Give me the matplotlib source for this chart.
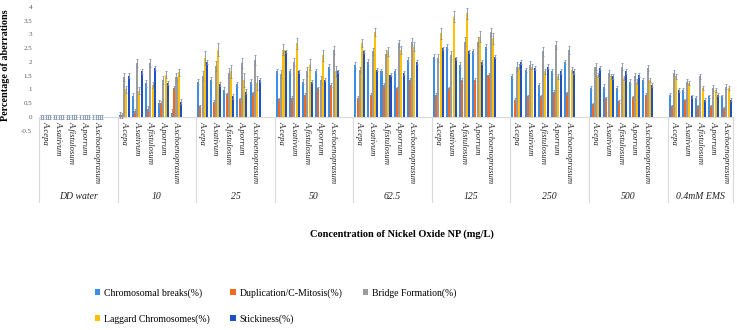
import matplotlib
matplotlib.use('Agg')
import matplotlib.pyplot as plt
import numpy as np

plt.rcParams['font.family'] = ['Liberation Serif', 'DejaVu Serif']

# 數據
groups = ['DD water', '10', '25', '50', '62.5', '125', '250', '500', '0.4mM EMS']
species = ['A.cepa', 'A.sativum', 'A.fistulosum', 'A.porrum', 'A.schoenoprasum']
aberrations = ['Chromosomal breaks(%)', 'Duplication/C-Mitosis(%)', 'Bridge Formation(%)',
               'Laggard Chromosomes(%)', 'Stickiness(%)']

breaks = [
    [0, 0, 0, 0, 0],
    [0.07, 0.74, 1.22, 0.5, 0.15],
    [1.28, 1.35, 0.98, 1.18, 1.28],
    [1.65, 1.65, 1.28, 1.65, 1.83],
    [1.89, 2.0, 1.65, 1.65, 2.07],
    [2.19, 2.56, 1.89, 2.38, 2.56],
    [1.47, 1.71, 1.16, 1.65, 2.0],
    [1.04, 1.1, 1.04, 1.28, 1.35],
    [0.8, 0.98, 0.68, 0.74, 0.74],
]
duplication = [
    [0, 0, 0, 0, 0],
    [0.05, 0.2, 0.3, 0.5, 1.04],
    [0.38, 0.55, 0.82, 0.64, 0.86],
    [0.64, 0.68, 0.8, 1.04, 1.16],
    [0.68, 0.8, 1.16, 1.04, 1.35],
    [0.8, 1.04, 1.35, 1.35, 1.53],
    [0.62, 0.74, 0.74, 0.92, 0.86],
    [0.47, 0.68, 0.56, 0.72, 0.8],
    [0.38, 0.62, 0.38, 0.38, 0.32],
]
bridge = [
    [0, 0, 0, 0, 0],
    [1.45, 1.95, 1.95, 1.35, 1.45],
    [1.5, 1.85, 1.6, 1.95, 2.07],
    [1.55, 2.0, 1.65, 1.35, 2.44],
    [1.7, 2.38, 2.3, 2.68, 2.74],
    [2.13, 2.25, 2.74, 2.74, 3.1],
    [1.83, 1.89, 2.38, 2.62, 2.44],
    [1.83, 1.59, 1.83, 1.47, 1.77],
    [1.59, 1.28, 1.47, 1.04, 1.1],
]
laggard = [
    [0, 0, 0, 0, 0],
    [1.0, 0.95, 1.16, 1.53, 1.62],
    [2.13, 2.45, 1.65, 1.35, 1.22],
    [2.44, 2.68, 1.89, 2.25, 1.65],
    [2.68, 3.1, 2.38, 2.44, 2.56],
    [3.04, 3.65, 3.77, 2.92, 2.86],
    [1.83, 1.83, 1.65, 1.47, 1.71],
    [1.53, 1.47, 1.41, 1.28, 1.35],
    [1.47, 1.22, 1.04, 0.98, 1.04],
]
stickiness = [
    [0, 0, 0, 0, 0],
    [1.5, 1.65, 1.77, 1.22, 0.55],
    [2.0, 1.2, 0.74, 0.92, 1.35],
    [2.38, 1.65, 1.28, 1.35, 1.65],
    [2.38, 1.71, 1.53, 1.59, 2.0],
    [2.5, 2.13, 2.38, 2.0, 2.19],
    [2.0, 1.77, 1.83, 1.65, 1.65],
    [1.77, 1.47, 1.65, 1.53, 1.16],
    [0.98, 0.74, 0.62, 0.8, 0.62],
]

# 誤差（每組每類型）
err_breaks = [0.08, 0.12, 0.1, 0.1, 0.1, 0.1, 0.08, 0.08, 0.06]
err_dup = [0.08, 0.08, 0.06, 0.06, 0.06, 0.06, 0.05, 0.05, 0.04]
err_bridge = [0.08, 0.15, 0.18, 0.15, 0.12, 0.15, 0.15, 0.12, 0.1]
err_laggard = [0.08, 0.12, 0.25, 0.2, 0.15, 0.2, 0.1, 0.08, 0.08]
err_sticky = [0.08, 0.08, 0.08, 0.06, 0.06, 0.06, 0.08, 0.08, 0.06]

yticks = [-0.5, 0, 0.5, 1, 1.5, 2, 2.5, 3, 3.5, 4]

series = [breaks, duplication, bridge, laggard, stickiness]
errors = [err_breaks, err_dup, err_bridge, err_laggard, err_sticky]
colors = ['#3a8ee6', '#f0691c', '#9c9c9c', '#ffc000', '#1f4fc4']

W, H = 737, 330
fig = plt.figure(figsize=(W / 100, H / 100), dpi=100, facecolor='white')
ax = fig.add_axes([39 / W, (H - 130.5) / H, (733 - 39) / W, 123.5 / H])

slots = 6  # 每組 5 個物種 + 1 個空位
n_sp = len(species)
bar_w = 0.155
step = 0.172

x_sp = []
for g in range(len(groups)):
    for s in range(n_sp):
        x_sp.append(g * slots + s)
x_sp = np.array(x_sp, dtype=float)

for k, (data, err, c) in enumerate(zip(series, errors, colors)):
    vals = np.array(data).ravel()
    e = np.repeat(err, n_sp)
    xs = x_sp + (k - 2) * step
    ax.bar(xs, vals, width=bar_w, color=c, label=aberrations[k], zorder=2)
    ax.errorbar(xs, vals, yerr=e, fmt='none', ecolor='#8093ad', elinewidth=0.6,
                capsize=1.0, capthick=0.6, zorder=3)

n_slots = len(groups) * slots - 1
ax.set_xlim(-0.5, n_slots - 0.5)
ax.set_ylim(-0.5, 4)
ax.set_yticks(yticks)
ax.set_yticklabels(['%g' % v for v in yticks])
ax.tick_params(axis='y', length=0, labelsize=5, colors='#595959', pad=5)
ax.set_xticks([])
for sp in ax.spines.values():
    sp.set_visible(False)

# 零線與分隔線
ax.axhline(0, color='#d9d9d9', linewidth=0.8, zorder=1)
bounds = [g * slots - 0.5 for g in range(len(groups))] + [n_slots - 0.5]
for b in bounds:
    ax.plot([b, b], [0, -3.1], color='#d9d9d9', linewidth=0.8, clip_on=False)

# 物種標籤
for i, x in enumerate(x_sp):
    ax.text(x, -0.17, species[i % n_sp], rotation=-90, ha='center', va='top',
            fontsize=6.2, fontstyle='italic', color='#222222', clip_on=False)

# 組別標籤
for g, name in enumerate(groups):
    cx = (bounds[g] + bounds[g + 1]) / 2
    ax.text(cx, -2.92, name, ha='center', va='center', fontsize=7,
            fontstyle='italic', color='#222222', clip_on=False)

ax.set_ylabel('Percentage of aberrations', fontsize=7.3, fontweight='bold')
ax.yaxis.set_label_coords(-29 / 694, 0.53)

fig.text(402 / W, 1 - 234 / H, 'Concentration of Nickel Oxide NP (mg/L)',
         ha='center', va='center', fontsize=7.5, fontweight='bold')

# 圖例（列優先排列：3 欄 2 列）
handles, labels = ax.get_legend_handles_labels()
order = [0, 3, 1, 4, 2]
fig.legend([handles[i] for i in order], [labels[i] for i in order],
           loc='upper left', bbox_to_anchor=(95 / W, 1 - 288 / H), ncol=3,
           frameon=False, fontsize=7, handlelength=0.55, handleheight=0.55,
           handletextpad=0.4, columnspacing=2.1, labelspacing=1.7,
           borderpad=0, borderaxespad=0)

plt.savefig('out.png', dpi=100, facecolor='white')
